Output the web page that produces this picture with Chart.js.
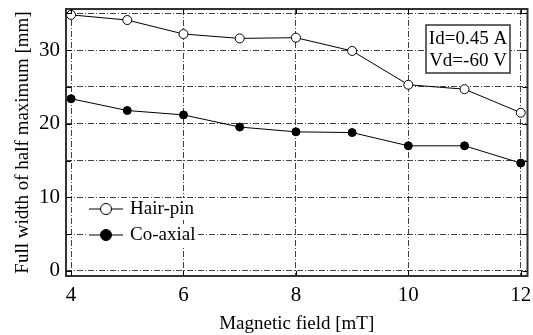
<!DOCTYPE html>
<html>
<head>
<meta charset="utf-8">
<script src="https://cdn.jsdelivr.net/npm/chart.js@4"></script>
<style>
  html, body { margin: 0; padding: 0; background: #fff; }
  #wrap { width: 533px; height: 335px; }
</style>
</head>
<body>
<div id="wrap"><canvas id="chart" width="533" height="335"></canvas></div>
<script>
const fields = [ 4, 5, 6, 7, 8, 9, 10, 11, 12 ]
const hairPin = [ 34.8, 34.1, 32.2, 31.6, 31.7, 29.9, 25.3, 24.7, 21.5 ]
const coAxial = [ 23.4, 21.8, 21.2, 19.55, 18.9, 18.8, 17.0, 17.0, 14.65 ]
const seriesNames = [ 'Hair-pin', 'Co-axial' ]
const xTicks = [ 4, 6, 8, 10, 12 ]
const yTicks = [ 0, 10, 20, 30 ]
const noteLines = [ 'Id=0.45 A', 'Vd=-60 V' ]

const serif = '"Liberation Serif", "Times New Roman", serif'

function toPoints ( ys ) {
    return fields.map( ( x, i ) => ( { x: x, y: ys[ i ] } ) )
}

// frame, inward ticks, legend box and note box
const extras = {
    id: 'extras',
    afterDraw ( chart ) {
        const c = chart.ctx
        const a = chart.chartArea
        const xs = chart.scales.x
        const ys = chart.scales.y
        c.save()
        c.strokeStyle = '#333'
        c.lineWidth = 2
        c.strokeRect( a.left, a.top, a.right - a.left, a.bottom - a.top )
        c.lineWidth = 1
        c.strokeStyle = '#000'
        for ( let v = 0; v <= 35; v += 5 ) {
            const py = Math.round( ys.getPixelForValue( v ) ) + 0.5
            c.beginPath()
            c.moveTo( a.left, py ); c.lineTo( a.left + 5, py )
            c.moveTo( a.right, py ); c.lineTo( a.right - 5, py )
            c.stroke()
        }
        xTicks.forEach( v => {
            const px = Math.round( xs.getPixelForValue( v ) ) + 0.5
            c.beginPath()
            c.moveTo( px, a.bottom ); c.lineTo( px, a.bottom - 5 )
            c.moveTo( px, a.top ); c.lineTo( px, a.top + 5 )
            c.stroke()
        } )

        // legend
        c.font = '19px ' + serif
        c.textBaseline = 'middle'
        chart.data.datasets.forEach( ( ds, i ) => {
            const ly = 209 + i * 26
            c.fillStyle = '#fff'
            c.fillRect( 88, ly - 11, 108, 22 )
            c.strokeStyle = '#000'
            c.lineWidth = 1
            c.beginPath()
            c.moveTo( 89, ly ); c.lineTo( 123, ly )
            c.stroke()
            c.beginPath()
            c.arc( 106, ly, 5.5, 0, Math.PI * 2 )
            c.fillStyle = ds.pointBackgroundColor
            c.fill()
            c.stroke()
            c.fillStyle = '#000'
            c.fillText( ds.label, 130, ly )
        } )

        // note box
        c.fillStyle = '#fff'
        c.fillRect( 426, 25, 84, 48 )
        c.strokeStyle = '#333'
        c.lineWidth = 1.5
        c.strokeRect( 426, 25, 84, 48 )
        c.fillStyle = '#000'
        c.textAlign = 'center'
        noteLines.forEach( ( t, i ) => c.fillText( t, 468, 39 + i * 22 ) )
        c.restore()
    }
}

const gridStyle = {
    color: '#111',
    lineWidth: 0.8,
    drawTicks: false
}

new Chart( document.getElementById( 'chart' ), {
    type: 'scatter',
    data: {
        datasets: [ {
            label: seriesNames[ 0 ],
            data: toPoints( hairPin ),
            showLine: true,
            borderColor: '#000',
            borderWidth: 1,
            pointBackgroundColor: '#fff',
            pointBorderColor: '#000',
            pointBorderWidth: 1,
            pointRadius: 4.5
        }, {
            label: seriesNames[ 1 ],
            data: toPoints( coAxial ),
            showLine: true,
            borderColor: '#000',
            borderWidth: 1,
            pointBackgroundColor: '#000',
            pointBorderColor: '#000',
            pointRadius: 4
        } ]
    },
    options: {
        responsive: false,
        animation: false,
        layout: { padding: { top: 9, right: 3, left: 0, bottom: 0 } },
        plugins: {
            legend: { display: false },
            tooltip: { enabled: false }
        },
        scales: {
            x: {
                type: 'linear',
                min: 3.91,
                max: 12.12,
                afterBuildTicks: s => { s.ticks = xTicks.map( v => ( { value: v } ) ) },
                afterFit: s => {
                    s.height = 59
                    s.paddingLeft = 0
                    s.paddingRight = 0
                },
                grid: gridStyle,
                border: { display: false, dash: [ 6, 2, 1, 2 ] },
                ticks: {
                    color: '#000',
                    font: { family: serif, size: 21 },
                    padding: 7
                },
                title: {
                    display: true,
                    text: 'Magnetic field [mT]',
                    color: '#000',
                    font: { family: serif, size: 19 },
                    padding: { top: 2, bottom: 0 }
                }
            },
            y: {
                type: 'linear',
                min: -0.7,
                max: 35.6,
                afterBuildTicks: s => {
                    const t = []
                    for ( let v = 0; v <= 35; v += 5 ) t.push( { value: v } )
                    s.ticks = t
                },
                afterFit: s => {
                    s.width = 66
                    s.paddingTop = 0
                    s.paddingBottom = 0
                },
                grid: gridStyle,
                border: { display: false, dash: [ 6, 2, 1, 2 ] },
                ticks: {
                    color: '#000',
                    font: { family: serif, size: 21 },
                    padding: 6,
                    callback: v => yTicks.includes( v ) ? v : ''
                },
                title: {
                    display: true,
                    text: 'Full width of half maximum [mm]',
                    color: '#000',
                    font: { family: serif, size: 19 },
                    padding: { top: 12, bottom: 0 }
                }
            }
        }
    },
    plugins: [ extras ]
} )
</script>
</body>
</html>
